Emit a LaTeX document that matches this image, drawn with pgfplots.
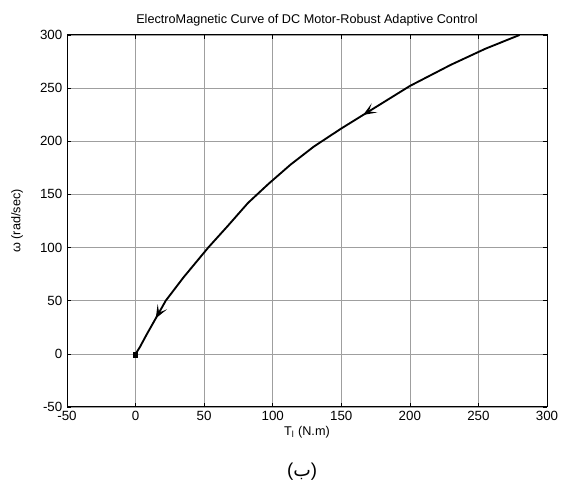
\documentclass[border=0pt]{standalone}
\usepackage{fontspec}
\setmainfont{Liberation Sans}
\newfontfamily\arabicfont[Script=Arabic]{DejaVu Sans}
\TeXXeTstate=1
\usepackage{pgfplots}
\pgfplotsset{compat=1.18}
\usetikzlibrary{arrows.meta,decorations.markings}
\begin{document}
\begin{tikzpicture}
\begin{axis}[
  scale only axis,
  width=360pt, height=279pt,
  xmin=-50, xmax=300, ymin=-50, ymax=300,
  xtick={-50,0,...,300}, ytick={-50,0,...,300},
  tick align=inside,
  tick style={black, thin},
  major tick length=3pt,
  grid=major,
  grid style={gray!75, line width=0.4pt},
  axis line style={black, line width=0.7pt},
  /pgf/number format/assume math mode=true,
  ticklabel style={font=\fontsize{10}{12}\selectfont},
  title={ElectroMagnetic Curve of DC Motor-Robust Adaptive Control},
  title style={font=\fontsize{9.5}{11}\selectfont, yshift=-3pt},
  xlabel={T\textsubscript{l} (N.m)},
  ylabel={ω (rad/sec)},
  label style={font=\fontsize{9.5}{11}\selectfont},
  xlabel style={yshift=3pt},
  ylabel style={yshift=6pt},
  clip=false,
]
\addplot[black, line width=1.4pt, no marks,
  postaction={decorate},
  decoration={markings,
    mark=at position 0.345 with {\arrow{Stealth[length=10pt,width=8pt,inset=5pt,line width=1pt]}},
    mark=at position 0.92 with {\arrow{Stealth[length=10pt,width=8pt,inset=5pt,line width=1pt]}}}
] coordinates {
(280,300) (255,287) (230,272) (200,252) (170,228) (150,212) (130,195) (113,178) (97,160) (82,142) (67,120) (53,100) (35,72) (22,50) (15,34) (8,18) (3,6) (0,0)
};
\addplot[black, only marks, mark=square*, mark size=1.6pt] coordinates {(0,-1)};
\path (rel axis cs:-0.1396,-0.223) rectangle (rel axis cs:1.0396,1.094);
\node[font=\fontsize{14}{16}\selectfont] at (rel axis cs:0.49,-0.173) {({\arabicfont\beginR ب\endR})};
\end{axis}
\end{tikzpicture}
\end{document}
